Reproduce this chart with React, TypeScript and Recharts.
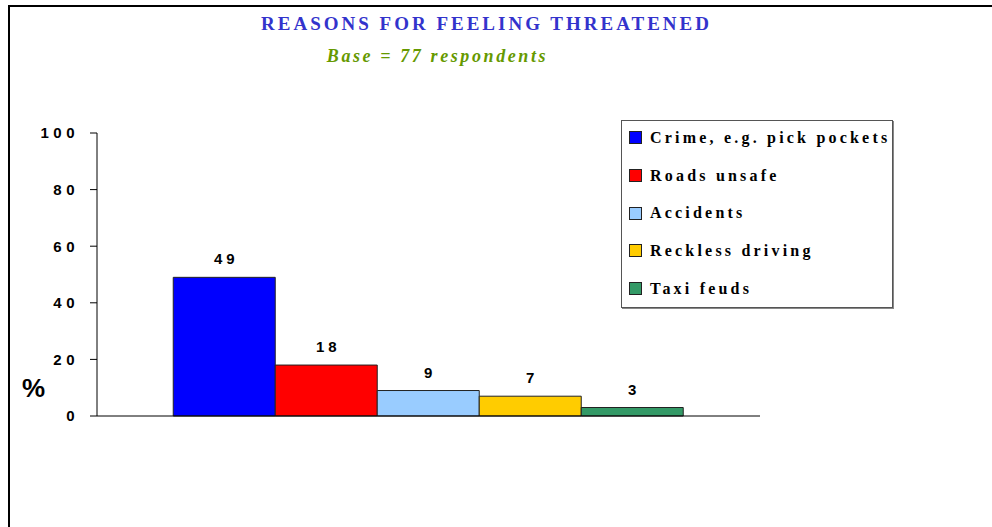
import { Bar, BarChart, LabelList, Legend, XAxis, YAxis } from "recharts";

const SERIES = ["Crime, e.g. pick pockets", "Roads unsafe", "Accidents", "Reckless driving", "Taxi feuds"];
const KEYS = ["crime", "roads", "accidents", "reckless", "taxi"];
const VALUES = [49, 18, 9, 7, 3];
const COLORS = ["#0000ff", "#ff0000", "#99ccff", "#ffcc00", "#339966"];
const Y_TICKS = [0, 20, 40, 60, 80, 100];

const row: Record<string, string | number> = { name: "" };
KEYS.forEach((k, i) => {
  row[k] = VALUES[i];
});
const data = [row];

const SERIF = "'Liberation Serif', 'Times New Roman', serif";
const SANS = "'Liberation Sans', Arial, sans-serif";

function LegendBox() {
  return (
    <div
      style={{
        width: 272,
        height: 188,
        border: "1px solid #555",
        boxShadow: "1px 1px 0 #888",
        background: "#fff",
        boxSizing: "border-box",
        overflow: "visible",
      }}
    >
      {SERIES.map((s, i) => (
        <div
          key={s}
          style={{
            display: "flex",
            alignItems: "center",
            height: 37.7,
            paddingLeft: 7,
            marginTop: i === 0 ? -2 : 0,
          }}
        >
          <span
            style={{
              width: 11,
              height: 11,
              background: COLORS[i],
              border: "1px solid #222",
              marginRight: 8,
              flex: "none",
            }}
          />
          <span
            style={{
              fontFamily: SERIF,
              fontWeight: "bold",
              fontSize: 16,
              letterSpacing: 3.2,
              color: "#000",
              whiteSpace: "nowrap",
            }}
          >
            {s}
          </span>
        </div>
      ))}
    </div>
  );
}

export default function App() {
  return (
    <div style={{ position: "absolute", left: 0, top: 0, width: 992, height: 527, background: "#fff", overflow: "hidden" }}>
      <div
        style={{
          position: "absolute",
          left: 8,
          top: 5,
          width: 1000,
          height: 600,
          borderTop: "2px solid #000",
          borderLeft: "2px solid #000",
        }}
      />
      <div
        style={{
          position: "absolute",
          left: 0,
          top: 13,
          width: 973,
          textAlign: "center",
          fontFamily: SERIF,
          fontWeight: "bold",
          fontSize: 19,
          letterSpacing: 3,
          color: "#3333cc",
          whiteSpace: "nowrap",
        }}
      >
        REASONS FOR FEELING THREATENED
      </div>
      <div
        style={{
          position: "absolute",
          left: 0,
          top: 46,
          width: 875,
          textAlign: "center",
          fontFamily: SERIF,
          fontWeight: "bold",
          fontStyle: "italic",
          fontSize: 18,
          letterSpacing: 2.6,
          color: "#669900",
          whiteSpace: "nowrap",
        }}
      >
        Base = 77 respondents
      </div>
      <div
        style={{
          position: "absolute",
          left: 22,
          top: 373,
          fontFamily: SANS,
          fontWeight: "bold",
          fontSize: 26,
          color: "#000",
        }}
      >
        %
      </div>
      <BarChart
        width={992}
        height={527}
        data={data}
        margin={{ top: 133, right: 232, bottom: 110, left: 0 }}
        barGap={0}
        barCategoryGap="11.5%"
      >
        <XAxis dataKey="name" height={1} tick={false} tickLine={false} axisLine={{ stroke: "#000" }} />
        <YAxis
          width={97}
          domain={[0, 100]}
          ticks={Y_TICKS}
          interval={0}
          tickSize={7}
          tickMargin={11}
          axisLine={{ stroke: "#000" }}
          tickLine={{ stroke: "#000" }}
          tick={{
            fill: "#000",
            fontSize: 15,
            fontWeight: "bold",
            fontFamily: SANS,
            letterSpacing: 4.5,
          }}
        />
        <Legend
          layout="horizontal"
          verticalAlign="middle"
          align="center"
          wrapperStyle={{ position: "absolute", left: 621, top: 120, width: 272, height: 188 }}
          content={() => <LegendBox />}
        />
        {KEYS.map((k, i) => (
          <Bar key={k} dataKey={k} name={SERIES[i]} fill={COLORS[i]} stroke="#222" strokeWidth={1} isAnimationActive={false}>
            <LabelList
              dataKey={k}
              position="top"
              offset={13}
              dx={2}
              fill="#000"
              fontSize={15}
              fontWeight="bold"
              fontFamily={SANS}
              letterSpacing={4}
            />
          </Bar>
        ))}
      </BarChart>
    </div>
  );
}
